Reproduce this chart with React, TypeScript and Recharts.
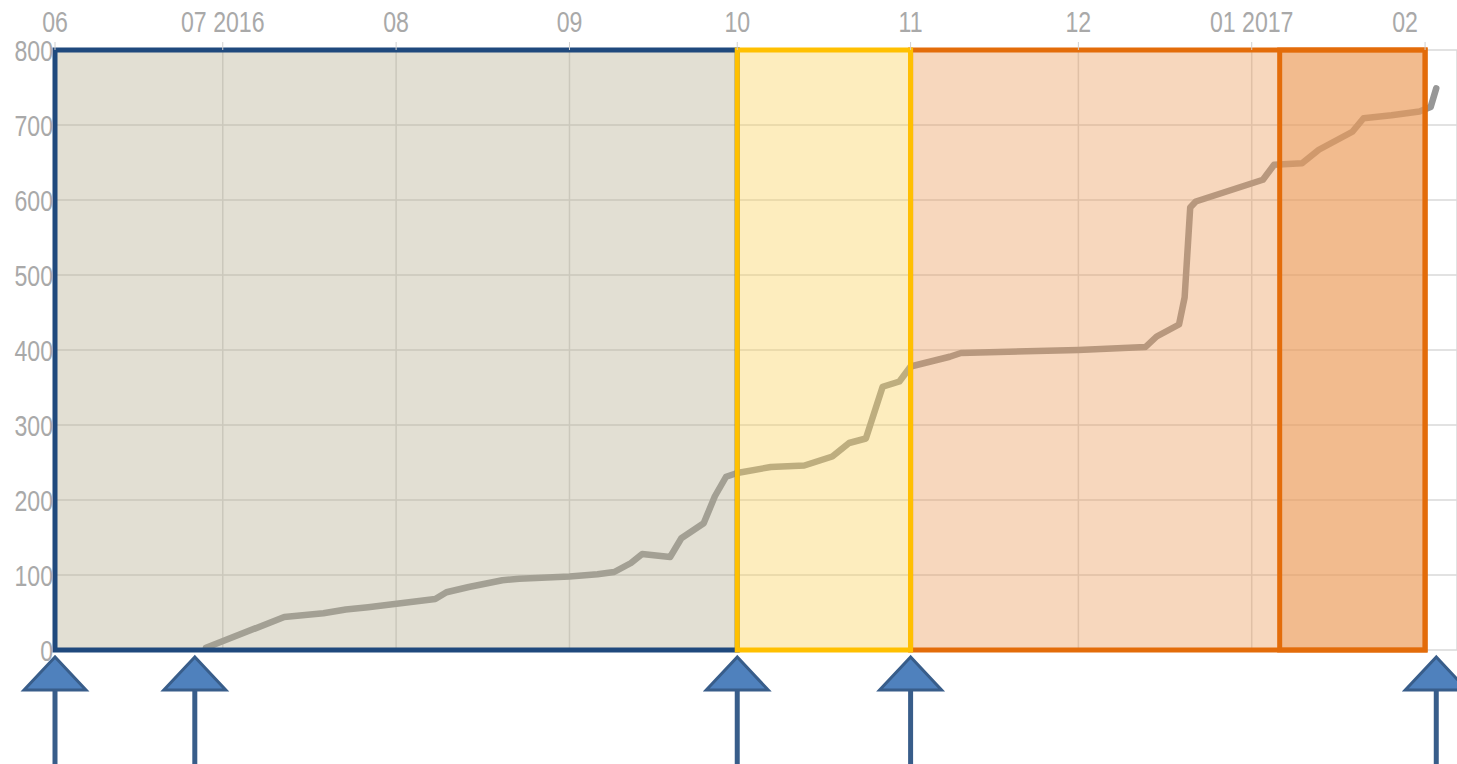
import { CartesianGrid, Line, LineChart, ReferenceArea, ReferenceDot, XAxis, YAxis } from "recharts"

// cumulative count
const dates = [
  "2016-06-28", "2016-07-12", "2016-07-19", "2016-07-23", "2016-07-27", "2016-08-08", "2016-08-10",
  "2016-08-14", "2016-08-20", "2016-08-23", "2016-09-01", "2016-09-06", "2016-09-09", "2016-09-12",
  "2016-09-14", "2016-09-19", "2016-09-21", "2016-09-25", "2016-09-27", "2016-09-29", "2016-10-01",
  "2016-10-07", "2016-10-13", "2016-10-18", "2016-10-21", "2016-10-24", "2016-10-27", "2016-10-30",
  "2016-11-01", "2016-11-08", "2016-11-10", "2016-12-01", "2016-12-13", "2016-12-15", "2016-12-19",
  "2016-12-20", "2016-12-21", "2016-12-22", "2017-01-03", "2017-01-05", "2017-01-10", "2017-01-13",
  "2017-01-19", "2017-01-21", "2017-01-26", "2017-01-31", "2017-02-02", "2017-02-03",
]
const counts = [
  3, 44, 49, 54, 57, 68, 77,
  84, 93, 95, 98, 101, 104, 116,
  128, 124, 149, 169, 205, 231, 236,
  244, 246, 258, 276, 282, 351, 358,
  378, 391, 396, 400, 404, 418, 434,
  470, 590, 598, 627, 647, 649, 667,
  691, 709, 713, 718, 724, 749,
]

const monthTicks = [
  "2016-06-01", "2016-07-01", "2016-08-01", "2016-09-01", "2016-10-01",
  "2016-11-01", "2016-12-01", "2017-01-01", "2017-02-01",
]
const monthLabels = ["06", "07 2016", "08", "09", "10", "11", "12", "01 2017", "02"]
const yTicks = [0, 100, 200, 300, 400, 500, 600, 700, 800]

// phases (start, end)
const phaseBlue = ["2016-06-01", "2016-10-01"]
const phaseYellow = ["2016-10-01", "2016-11-01"]
const phaseOrange = ["2016-11-01", "2017-02-01"]
const phaseDark = ["2017-01-06", "2017-02-01"]

const arrowDates = ["2016-06-01", "2016-06-26", "2016-10-01", "2016-11-01", "2017-02-03"]

const t = (d: string) => Date.parse(d.length > 10 ? d + "Z" : d + "T00:00:00Z")

const data = dates.map((d, i) => ({ time: t(d), count: counts[i] }))
const xTicks = monthTicks.map(t)

const tickFont = "'Liberation Sans', Arial, sans-serif"

const XTick = (props: any) => {
  const { x, y, index } = props
  return (
    <text
      transform={`translate(${x},${y - 8}) scale(0.77,1)`}
      textAnchor="middle"
      fill="#a9a9a9"
      fontSize={30}
      fontFamily={tickFont}
    >
      {monthLabels[index]}
    </text>
  )
}

const YTick = (props: any) => {
  const { x, y, payload } = props
  return (
    <text
      transform={`translate(${x + 6},${y + 11}) scale(0.77,1)`}
      textAnchor="end"
      fill="#a9a9a9"
      fontSize={30}
      fontFamily={tickFont}
    >
      {payload.value}
    </text>
  )
}

const Arrow = (props: any) => {
  const { cx, cy } = props
  if (cx == null || cy == null) return null
  return (
    <g>
      <line x1={cx} y1={cy + 38} x2={cx} y2={cy + 114} stroke="#385d8a" strokeWidth={5} />
      <polygon
        points={`${cx},${cy + 7} ${cx - 31},${cy + 40} ${cx + 31},${cy + 40}`}
        fill="#4f81bd"
        stroke="#385d8a"
        strokeWidth={3}
      />
    </g>
  )
}

export default function App() {
  return (
    <div style={{ position: "absolute", left: 0, top: 0, width: 1457, height: 764, overflow: "hidden", background: "#fff" }}>
      <LineChart width={1457} height={764} data={data} margin={{ top: 0, right: 0, bottom: 114, left: 0 }}>
        <CartesianGrid stroke="#d9d9d9" strokeWidth={1.5} vertical horizontal />
        <XAxis
          dataKey="time"
          type="number"
          scale="time"
          orientation="top"
          domain={[t("2016-06-01"), t("2017-02-06T17:00:00")]}
          ticks={xTicks}
          tick={<XTick />}
          height={50}
          axisLine={false}
          tickLine={{ stroke: "#d0d0d0" }}
          tickSize={8}
          allowDataOverflow
        />
        <YAxis
          type="number"
          domain={[0, 800]}
          ticks={yTicks}
          tick={<YTick />}
          width={55}
          axisLine={false}
          tickLine={false}
        />
        <Line
          type="linear"
          dataKey="count"
          stroke="#979797"
          strokeWidth={6.5}
          strokeLinejoin="round"
          strokeLinecap="round"
          dot={false}
          isAnimationActive={false}
        />
        <ReferenceArea
          x1={t(phaseBlue[0])}
          x2={t(phaseBlue[1])}
          y1={0}
          y2={800}
          fill="#b7af91"
          fillOpacity={0.4}
          stroke="#1f497d"
          strokeWidth={5}
          ifOverflow="visible"
          zIndex={450}
        />
        <ReferenceArea
          x1={t(phaseOrange[0])}
          x2={t(phaseOrange[1])}
          y1={0}
          y2={800}
          fill="#eb9b5a"
          fillOpacity={0.4}
          stroke="#e36c0a"
          strokeWidth={5}
          ifOverflow="visible"
          zIndex={450}
        />
        <ReferenceArea
          x1={t(phaseDark[0])}
          x2={t(phaseDark[1])}
          y1={0}
          y2={800}
          fill="#eb9b5a"
          fillOpacity={0.47}
          stroke="#e36c0a"
          strokeWidth={5}
          ifOverflow="visible"
          zIndex={450}
        />
        <ReferenceArea
          x1={t(phaseYellow[0])}
          x2={t(phaseYellow[1])}
          y1={0}
          y2={800}
          fill="#fad25d"
          fillOpacity={0.4}
          stroke="#ffc000"
          strokeWidth={5}
          ifOverflow="visible"
          zIndex={450}
        />
        {arrowDates.map((d) => (
          <ReferenceDot key={d} x={t(d)} y={0} r={0} ifOverflow="visible" shape={<Arrow />} zIndex={600} />
        ))}
      </LineChart>
    </div>
  )
}
